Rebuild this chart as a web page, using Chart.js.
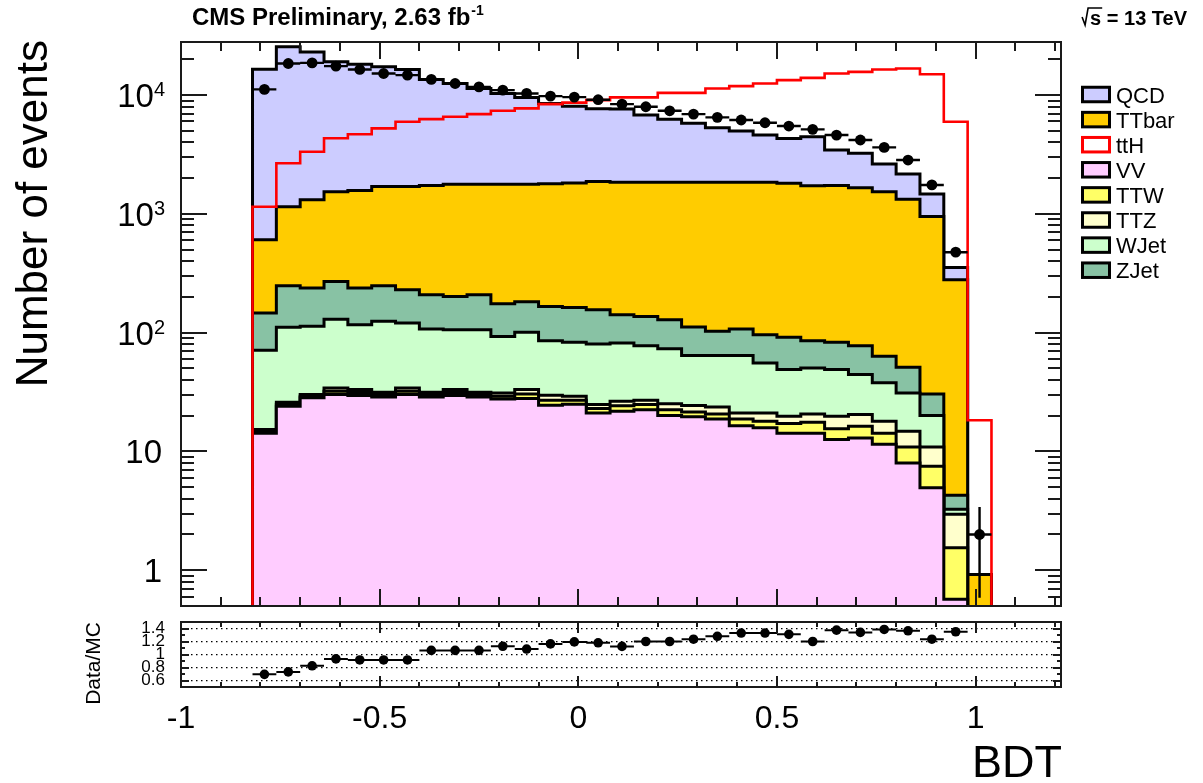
<!DOCTYPE html>
<html>
<head>
<meta charset="utf-8">
<title>BDT output</title>
<script src="https://cdn.jsdelivr.net/npm/chart.js@4/dist/chart.umd.min.js"></script>
<style>
  html, body { margin: 0; padding: 0; background: #ffffff; }
  #wrap { position: relative; width: 1203px; height: 783px; }
  #wrap canvas { position: absolute; left: 0; top: 0; }
</style>
</head>
<body>
<div id="wrap">
  <canvas id="mainPad" width="1203" height="783"></canvas>
  <canvas id="ratioPad" width="1203" height="783"></canvas>
</div>
<script>
// ---- binning (31 bins in BDT output) ----
const binEdges = [-0.82, -0.76, -0.70, -0.64, -0.58, -0.52, -0.46, -0.40, -0.34, -0.28,
                  -0.22, -0.16, -0.10, -0.04, 0.02, 0.08, 0.14, 0.20, 0.26, 0.32,
                  0.38, 0.44, 0.50, 0.56, 0.62, 0.68, 0.74, 0.80, 0.86, 0.92,
                  0.98, 1.04];

// ---- background yields per bin (stacked, bottom first) ----
const vv    = [14.2, 24.0, 28.3, 30.1, 29.6, 28.8, 30.1, 28.8, 29.6, 28.8, 27.7, 27.9, 24.5, 25.0, 21.1,
               21.8, 22.5, 20.1, 19.6, 18.8, 16.5, 15.8, 14.2, 14.2, 12.6, 13.0, 11.5, 8.0, 4.95, 0.57, 0];
const ttw   = [0.5, 1.0, 0.9, 2.1, 1.8, 1.3, 2.1, 1.3, 1.8, 1.3, 1.5, 2.6, 2.5, 2.0, 1.9,
               2.5, 2.3, 2.4, 1.9, 1.9, 2.3, 2.2, 3.0, 3.4, 2.9, 3.3, 2.7, 2.9, 2.55, 0.98, 0];
const ttz   = [0.6, 1.0, 0.9, 2.1, 1.8, 1.4, 2.1, 1.4, 1.8, 1.4, 1.9, 2.7, 2.7, 2.2, 1.8,
               2.2, 2.2, 2.7, 2.9, 3.0, 2.3, 3.1, 2.6, 3.1, 4.3, 4.2, 3.8, 3.9, 3.4, 1.41, 0];
const wjet  = [55.7, 84.9, 82.9, 95.7, 83.5, 93.0, 86.2, 75.9, 72.8, 74.5, 61.9, 67.5, 56.0, 53.8, 55.6,
               55.4, 50.8, 48.2, 39.7, 40.4, 43.0, 34.5, 29.1, 29.8, 29.1, 23.9, 19.8, 16.3, 9.2, 0.30, 0];
const zjet  = [75.4, 137, 124.5, 140, 120.8, 123.5, 109.2, 101.1, 95.8, 102.5, 82.0, 81.3, 80.3, 80.0, 75.6,
               59.8, 59.2, 55.2, 47.6, 38.5, 43.3, 40.6, 42.4, 35.2, 34.1, 33.4, 25.5, 20.0, 10.4, 1.01, 0];
const ttbar = [459, 903, 1075, 1269, 1333, 1450, 1468, 1522, 1576, 1570, 1605, 1598, 1624, 1657, 1714,
               1708, 1713, 1721, 1738, 1747, 1743, 1754, 1720, 1644, 1647, 1585, 1476, 1279, 919, 275, 0.92];
const qcd   = [15900, 24350, 21790, 17510, 16660, 15600, 14740, 11820, 10750, 9600, 8550, 7790, 6730, 6230, 5810,
               5780, 4940, 4400, 3940, 3460, 3130, 2760, 2510, 2740, 1720, 1570, 1090, 840, 520, 75, 0];

// ---- ttH signal (drawn on its own, not stacked) ----
const tth   = [1150, 2670, 3340, 4330, 4680, 5250, 5970, 6280, 6570, 6920, 7380, 7730, 8400, 8650, 9080,
               9570, 9570, 10450, 10450, 11380, 11900, 12530, 13370, 13970, 15200, 15700, 16450, 16760, 15000, 5970, 18.3];

// ---- observed data ----
const dataCounts = [11170, 18460, 18670, 17530, 16440, 15200, 14720, 13550, 12530, 11740, 11020, 10330, 9810, 9620, 9150,
                    8400, 7980, 7380, 6920, 6500, 6170, 5850, 5490, 5150, 4610, 4190, 3630, 2840, 1753, 476, 2];
const dataOverMC = [0.695, 0.732, 0.826, 0.932, 0.916, 0.916, 0.916, 1.063, 1.063, 1.063, 1.127, 1.084, 1.163, 1.194, 1.18,
                    1.125, 1.20, 1.20, 1.235, 1.28, 1.33, 1.33, 1.31, 1.20, 1.375, 1.34, 1.385, 1.365, 1.235, 1.35, null];

// ---- axis labels ----
const yMainTicks = [1, 10, 100, 1000, 10000];
const xTickLabels = [-1, -0.5, 0, 0.5, 1];
const ratioTicks = [0.6, 0.8, 1, 1.2, 1.4];
const legendOrder = ['QCD', 'TTbar', 'ttH', 'VV', 'TTW', 'TTZ', 'WJet', 'ZJet'];

// ---- styling ----
const FONT = "'Liberation Sans', Arial, Helvetica, sans-serif";
const X_MIN = -1, X_MAX = 1.215;
const Y_MIN = 0.5, Y_MAX = 28000;
const FLOOR = 1e-3;   // below the visible range: closes each histogram outline at the bottom

const stackStyle = [
  { label: 'VV',    values: vv,    color: '#ffccff' },
  { label: 'TTW',   values: ttw,   color: '#ffff66' },
  { label: 'TTZ',   values: ttz,   color: '#ffffcc' },
  { label: 'WJet',  values: wjet,  color: '#ccffcc' },
  { label: 'ZJet',  values: zjet,  color: '#88c2a4' },
  { label: 'TTbar', values: ttbar, color: '#ffcc00' },
  { label: 'QCD',   values: qcd,   color: '#ccccff' }
];

const nBins = binEdges.length - 1;
const binCenter = i => (binEdges[i] + binEdges[i + 1]) / 2;

// step outline of a histogram, closed down to the floor at both ends
function histPoints(vals) {
  const pts = [{ x: binEdges[0], y: FLOOR }];
  vals.forEach((v, i) => pts.push({ x: binEdges[i], y: Math.max(v, FLOOR) }));
  pts.push({ x: binEdges[vals.length], y: Math.max(vals[vals.length - 1], FLOOR) });
  pts.push({ x: binEdges[vals.length], y: FLOOR });
  return pts;
}

// cumulative sums, drawn back to front like a THStack
const datasets = [];
const running = new Array(nBins).fill(0);
stackStyle.forEach((s, k) => {
  for (let i = 0; i < nBins; i++) running[i] += s.values[i];
  datasets.push({
    label: s.label,
    data: histPoints(running.slice()),
    stepped: true,
    fill: 'start',
    backgroundColor: s.color,
    borderColor: '#000000',
    borderWidth: 3,
    pointRadius: 0,
    order: 3 + k
  });
});

datasets.push({
  label: 'ttH',
  data: histPoints(tth),
  stepped: true,
  fill: false,
  backgroundColor: '#ffffff',
  borderColor: '#ff0000',
  borderWidth: 2.6,
  pointRadius: 0,
  order: 2
});

// data error bars: bin-width horizontal bars and sqrt(N) vertical bars
const dataErr = [];
dataCounts.forEach((n, i) => {
  const c = binCenter(i), s = Math.sqrt(n);
  dataErr.push({ x: binEdges[i], y: n }, { x: binEdges[i + 1], y: n }, { x: c, y: null });
  dataErr.push({ x: c, y: Math.max(n - s, FLOOR) }, { x: c, y: n + s }, { x: c, y: null });
});
datasets.push({
  label: 'data-errors',
  data: dataErr,
  borderColor: '#000000',
  borderWidth: 2.4,
  pointRadius: 0,
  spanGaps: false,
  fill: false,
  order: 1
});
datasets.push({
  label: 'Data',
  data: dataCounts.map((n, i) => ({ x: binCenter(i), y: n })),
  showLine: false,
  pointRadius: 5.4,
  pointBackgroundColor: '#000000',
  pointBorderWidth: 0,
  order: 0
});

function drawRotated(ctx, text, x, y, font, align) {
  ctx.save();
  ctx.translate(x, y);
  ctx.rotate(-Math.PI / 2);
  ctx.font = font;
  ctx.textAlign = align;
  ctx.textBaseline = 'alphabetic';
  ctx.fillText(text, 0, 0);
  ctx.restore();
}

// frame, inward ticks, axis labels, titles and legend of the upper pad
const mainDecor = {
  id: 'mainDecor',
  afterDraw(chart) {
    const { ctx, chartArea: a } = chart;
    const xs = chart.scales.x, ys = chart.scales.y;
    ctx.save();
    ctx.strokeStyle = '#1a1a1a';
    ctx.lineWidth = 2;
    ctx.beginPath();
    for (let k = -10; k <= 12; k++) {
      const px = Math.round(xs.getPixelForValue(k / 10));
      const len = (k % 5 === 0) ? 17 : 9;
      ctx.moveTo(px, a.bottom); ctx.lineTo(px, a.bottom - len);
      ctx.moveTo(px, a.top); ctx.lineTo(px, a.top + len);
    }
    for (let e = -1; e <= 4; e++) {
      for (let m = 1; m <= 9; m++) {
        const v = m * Math.pow(10, e);
        if (v < Y_MIN || v > Y_MAX) continue;
        const py = Math.round(ys.getPixelForValue(v));
        const len = m === 1 ? 26 : 13;
        ctx.moveTo(a.left, py); ctx.lineTo(a.left + len, py);
        ctx.moveTo(a.right, py); ctx.lineTo(a.right - len, py);
      }
    }
    ctx.stroke();
    ctx.strokeRect(a.left, a.top, a.right - a.left, a.bottom - a.top);

    // y tick labels with exponents
    ctx.fillStyle = '#000000';
    ctx.textBaseline = 'alphabetic';
    const right = a.left - 16;
    yMainTicks.forEach(v => {
      const py = ys.getPixelForValue(v);
      const exp = Math.round(Math.log10(v));
      if (exp <= 1) {
        ctx.font = `33px ${FONT}`;
        ctx.textAlign = 'right';
        ctx.fillText(String(v), right - 3, py + 12);
      } else {
        ctx.font = `20px ${FONT}`;
        const sw = ctx.measureText(String(exp)).width;
        ctx.textAlign = 'left';
        ctx.fillText(String(exp), right - sw, py + 1);
        ctx.font = `33px ${FONT}`;
        ctx.textAlign = 'right';
        ctx.fillText('10', right - sw, py + 12);
      }
    });

    // y axis title
    drawRotated(ctx, 'Number of events', 47, a.top - 2, `44px ${FONT}`, 'right');

    // header texts
    ctx.textAlign = 'left';
    ctx.font = `bold 24px ${FONT}`;
    const head = 'CMS Preliminary, 2.63 fb';
    ctx.fillText(head, 192, 25);
    const hw = ctx.measureText(head).width;
    ctx.font = `bold 14px ${FONT}`;
    ctx.fillText('-1', 192 + hw + 1, 15);

    ctx.font = `bold 20px ${FONT}`;
    ctx.textAlign = 'right';
    const energy = 's = 13 TeV';
    const ex = 1187;
    ctx.fillText(energy, ex, 25);
    const ew = ctx.measureText(energy).width;
    const sW = ctx.measureText('s').width;
    const sx = ex - ew;
    ctx.lineWidth = 1.6;
    ctx.strokeStyle = '#000000';
    ctx.beginPath();
    ctx.moveTo(sx - 8, 17);
    ctx.lineTo(sx - 5, 25);
    ctx.lineTo(sx - 2, 8);
    ctx.lineTo(sx + sW + 1, 8);
    ctx.stroke();

    // legend
    legendOrder.forEach((name, i) => {
      const ds = chart.data.datasets.find(d => d.label === name);
      const cy = 94.5 + i * 25.1;
      ctx.fillStyle = ds.backgroundColor;
      ctx.fillRect(1082.5, cy - 7.25, 27, 14.5);
      ctx.strokeStyle = ds.borderColor;
      ctx.lineWidth = 3;
      ctx.strokeRect(1082.5, cy - 7.25, 27, 14.5);
      ctx.fillStyle = '#000000';
      ctx.font = `22px ${FONT}`;
      ctx.textAlign = 'left';
      ctx.fillText(name, 1116, cy + 8);
    });
    ctx.restore();
  }
};

new Chart(document.getElementById('mainPad'), {
  type: 'line',
  data: { datasets },
  options: {
    responsive: false,
    animation: false,
    events: [],
    layout: { padding: { left: 0, top: 42, right: 142, bottom: 177 } },
    scales: {
      x: { type: 'linear', min: X_MIN, max: X_MAX, display: false },
      y: {
        type: 'logarithmic', min: Y_MIN, max: Y_MAX,
        afterFit: s => { s.width = 181; },
        ticks: { display: false },
        grid: { display: false },
        border: { display: false }
      }
    },
    plugins: { legend: { display: false }, tooltip: { enabled: false } }
  },
  plugins: [mainDecor]
});

// ---- ratio pad ----
const ratioErr = [];
dataOverMC.forEach((r, i) => {
  if (r === null) return;
  const c = binCenter(i), s = r / Math.sqrt(dataCounts[i]);
  ratioErr.push({ x: binEdges[i], y: r }, { x: binEdges[i + 1], y: r }, { x: c, y: null });
  ratioErr.push({ x: c, y: r - s }, { x: c, y: r + s }, { x: c, y: null });
});

const ratioDecor = {
  id: 'ratioDecor',
  afterDraw(chart) {
    const { ctx, chartArea: a } = chart;
    const xs = chart.scales.x, ys = chart.scales.y;
    ctx.save();
    ctx.strokeStyle = '#1a1a1a';
    ctx.lineWidth = 2;
    ctx.beginPath();
    for (let k = -10; k <= 12; k++) {
      const px = Math.round(xs.getPixelForValue(k / 10));
      const len = (k % 5 === 0) ? 11 : 5;
      ctx.moveTo(px, a.bottom); ctx.lineTo(px, a.bottom - len);
      ctx.moveTo(px, a.top); ctx.lineTo(px, a.top + len);
    }
    for (let k = 5; k <= 15; k++) {
      const py = Math.round(ys.getPixelForValue(k / 10));
      const len = (k % 2 === 0) ? 8 : 4;
      ctx.moveTo(a.left, py); ctx.lineTo(a.left + len, py);
      ctx.moveTo(a.right, py); ctx.lineTo(a.right - len, py);
    }
    ctx.stroke();
    ctx.strokeRect(a.left, a.top, a.right - a.left, a.bottom - a.top);

    ctx.fillStyle = '#000000';
    drawRotated(ctx, 'Data/MC', 100, a.top, `21px ${FONT}`, 'right');
    ctx.font = `45px ${FONT}`;
    ctx.textAlign = 'right';
    ctx.textBaseline = 'alphabetic';
    ctx.fillText('BDT', a.right + 1, 777);
    ctx.restore();
  }
};

new Chart(document.getElementById('ratioPad'), {
  type: 'line',
  data: {
    datasets: [
      {
        label: 'ratio-errors',
        data: ratioErr,
        borderColor: '#000000',
        borderWidth: 2,
        pointRadius: 0,
        spanGaps: false,
        fill: false,
        order: 1
      },
      {
        label: 'Data/MC',
        data: dataOverMC.map((r, i) => ({ x: binCenter(i), y: r })).filter(p => p.y !== null),
        showLine: false,
        pointRadius: 4.8,
        pointBackgroundColor: '#000000',
        pointBorderWidth: 0,
        order: 0
      }
    ]
  },
  options: {
    responsive: false,
    animation: false,
    events: [],
    layout: { padding: { left: 0, top: 622, right: 142, bottom: 0 } },
    scales: {
      x: {
        type: 'linear', min: X_MIN, max: X_MAX,
        afterBuildTicks: s => { s.ticks = xTickLabels.map(v => ({ value: v })); },
        afterFit: s => { s.height = 96; },
        ticks: {
          color: '#000000', font: { family: FONT, size: 32 }, padding: 5,
          maxRotation: 0, autoSkip: false, callback: v => String(v)
        },
        grid: { display: false },
        border: { display: false }
      },
      y: {
        type: 'linear', min: 0.5, max: 1.5,
        afterBuildTicks: s => { s.ticks = ratioTicks.map(v => ({ value: v })); },
        afterFit: s => { s.width = 181; },
        ticks: {
          color: '#000000', font: { family: FONT, size: 17 }, padding: 16,
          autoSkip: false, callback: v => String(v)
        },
        grid: { color: '#000000', lineWidth: 1.3, drawTicks: false },
        border: { display: false, dash: [1.5, 3.5] }
      }
    },
    plugins: { legend: { display: false }, tooltip: { enabled: false } }
  },
  plugins: [ratioDecor]
});
</script>
</body>
</html>
